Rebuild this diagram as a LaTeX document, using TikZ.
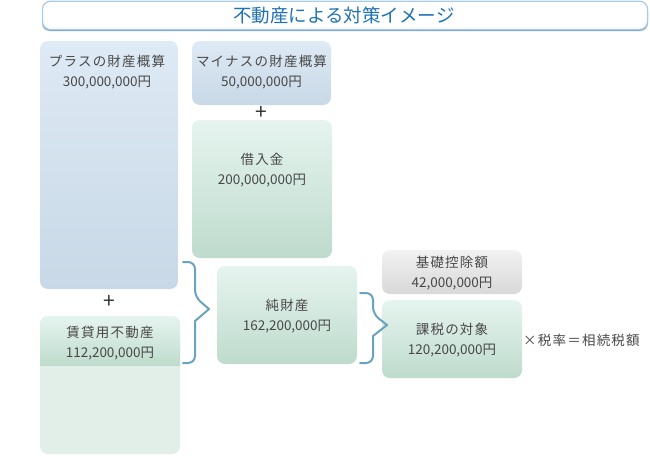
\documentclass[tikz,border=0pt]{standalone}
\usepackage{fontspec}
\setmainfont{Noto Sans CJK JP}
\newfontfamily\jsp[LetterSpace=9]{Noto Sans CJK JP}
\definecolor{txt}{HTML}{484848}
\definecolor{ttl}{HTML}{1F72B5}
\definecolor{ttlb}{HTML}{A9CDE8}
\definecolor{ttld}{HTML}{7EA8C9}
\definecolor{btop}{HTML}{DEEAF5}
\definecolor{bbot}{HTML}{C8D8E6}
\definecolor{gtop}{HTML}{E6F4EF}
\definecolor{gbot}{HTML}{BEDBCD}
\definecolor{ytop}{HTML}{F2F2F2}
\definecolor{ybot}{HTML}{D8D8D8}
\definecolor{glow}{HTML}{E2EFE9}
\definecolor{brc}{HTML}{6AA3C0}
\tikzset{
  box/.style={rectangle, rounded corners=8pt, inner sep=0pt, outer sep=0pt, draw=none},
  bluebox/.style={box, top color=btop, bottom color=bbot},
  greenbox/.style={box, top color=gtop, bottom color=gbot},
  graybox/.style={box, top color=ytop, bottom color=ybot},
  lbl/.style={text=txt, align=center, inner sep=0pt, font=\fontsize{13.5}{20}\selectfont},
  plussign/.style={text=black!80, inner sep=0pt, font=\fontsize{21}{21}\selectfont},
  bracestyle/.style={draw=brc, line width=2pt, line cap=round, line join=round},
}
\begin{document}
\begin{tikzpicture}[x=1pt,y=-1pt]
\useasboundingbox (0,0) rectangle (650,455);
% title
\fill[ttld, rounded corners=8pt] (42,2) rectangle (648,31);
\draw[ttlb, line width=1.2pt, fill=white, rounded corners=8pt] (42.5,1.2) rectangle (647.5,29.5);
\node[text=ttl, inner sep=0pt, font=\fontsize{18.5}{18.5}\selectfont] (title) at (344,15.5) {不動産による対策イメージ};
% boxes
\node[bluebox, minimum width=138pt, minimum height=248pt] (plus) at (109,165) {};
\node[lbl] (plust) at (107,72.5) {{\jsp プラスの財産概算}\\300,000,000円};
\node[bluebox, minimum width=139pt, minimum height=64pt] (minus) at (261.5,73) {};
\node[lbl] (minust) at (261.5,72.5) {{\jsp マイナスの財産概算}\\50,000,000円};
\node[plussign] (p1) at (261.5,112.5) {+};
\node[greenbox, minimum width=140pt, minimum height=138pt] (loan) at (262,189) {};
\node[lbl] (loant) at (262,170) {{\jsp 借入金}\\200,000,000円};
\node[plussign] (p2) at (109,302) {+};
% rental box
\fill[glow, rounded corners=8pt] (40,316) rectangle (180,454);
\shade[top color=gtop, bottom color=gbot, rounded corners=8pt] (40,366) -- (40,316) -- (180,316) [sharp corners] -- (180,366) -- cycle;
\node[inner sep=0pt] (rental) at (110,385) {};
\node[lbl] (rentalt) at (110,343) {{\jsp 賃貸用不動産}\\112,200,000円};
% net
\node[greenbox, minimum width=140pt, minimum height=98pt] (net) at (287,315) {};
\node[lbl] (nett) at (287,316) {{\jsp 純財産}\\162,200,000円};
% deduction
\node[graybox, minimum width=140pt, minimum height=44pt] (ded) at (452,272) {};
\node[lbl] (dedt) at (452,273) {{\jsp 基礎控除額}\\42,000,000円};
% taxable
\node[greenbox, minimum width=140pt, minimum height=78pt] (tax) at (452,339) {};
\node[lbl] (taxt) at (452,340) {{\jsp 課税の対象}\\120,200,000円};
\node[lbl, anchor=west] (form) at (523,340) {\jsp ×税率＝相続税額};
% braces
\draw[bracestyle] (183,262) [rounded corners=7pt] -- (195,262) -- (195,297) [sharp corners] -- (209,309) -- (195,321) [rounded corners=7pt] -- (195,363) -- (183,363);
\draw[bracestyle] (360,293) [rounded corners=7pt] -- (373,293) -- (373,314) [sharp corners] -- (387,325) -- (373,336) [rounded corners=7pt] -- (373,363) -- (360,363);
\end{tikzpicture}
\end{document}
